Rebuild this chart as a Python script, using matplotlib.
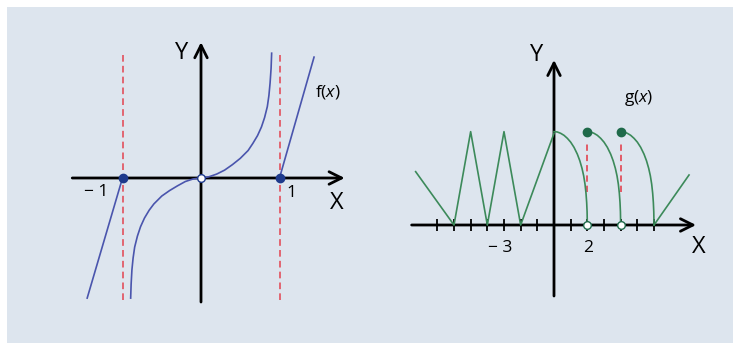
import numpy as np
import matplotlib.pyplot as plt
from matplotlib.patches import Rectangle

plt.rcParams['font.family'] = ['Open Sans', 'DejaVu Sans']
plt.rcParams['mathtext.fontset'] = 'custom'
plt.rcParams['mathtext.rm'] = 'Open Sans'
plt.rcParams['mathtext.it'] = 'Open Sans:italic'

# ---- left panel: f(x) ----
f_left_x = [-1.45, -1.0]
f_left_y = [-1.53, 0.0]
f_low_x = [-0.896, -0.89, -0.88, -0.865, -0.845, -0.81, -0.77, -0.72, -0.66,
           -0.6, -0.5, -0.4, -0.3, -0.2, -0.1, 0.0]
f_low_y = [-1.53, -1.35, -1.17, -1.02, -0.88, -0.74, -0.62, -0.51, -0.41,
           -0.33, -0.23, -0.16, -0.10, -0.045, -0.012, 0.0]
f_up_x = [0.0, 0.1, 0.2, 0.3, 0.4, 0.5, 0.6, 0.66, 0.72, 0.77, 0.81, 0.845,
          0.865, 0.88, 0.893, 0.90]
f_up_y = [0.0, 0.015, 0.05, 0.10, 0.17, 0.25, 0.35, 0.44, 0.54, 0.65, 0.77,
          0.91, 1.05, 1.21, 1.40, 1.59]
f_right_x = [1.0, 1.44]
f_right_y = [0.0, 1.54]
f_dots_x = [-1.0, 1.0]
f_open_x = [0.0]
f_asym_x = [-1.0, 1.0]

# ---- right panel: g(x) ----
g_zig_x = [-8.3, -6, -5, -4, -3, -2, 0]
g_zig_y = [3.2, 0, 5.6, 0, 5.6, 0, 5.5]
arc_dx = [0.0, 0.2, 0.4, 0.6, 0.8, 1.0, 1.2, 1.4, 1.55, 1.68, 1.78, 1.86,
          1.92, 1.96, 1.985, 2.0]
arc_y = [5.6, 5.58, 5.5, 5.38, 5.2, 4.97, 4.66, 4.25, 3.85, 3.4, 2.95, 2.45,
         1.9, 1.35, 0.8, 0.0]
arc_starts = [0, 2, 4]
g_tail_x = [6, 8.1]
g_tail_y = [0, 3.0]
g_dots_x = [2, 4]
g_top = 5.6
g_ticks = [-7, -6, -5, -4, -3, -2, -1, 1, 2, 3, 4, 5, 6]

blue = '#4a55ad'
navy = '#1e3a8c'
green = '#3c8a5a'
dgreen = '#1f6a4a'
red = '#e2505c'
bg = '#dde5ee'

fig = plt.figure(figsize=(7.35, 3.56), dpi=100)
fig.patch.set_facecolor('white')
fig.add_artist(Rectangle((7 / 735, 13 / 356), 726 / 735, 336 / 356,
                         transform=fig.transFigure, facecolor=bg,
                         edgecolor='none', zorder=0))

arrow = dict(arrowstyle='->,head_length=0.9,head_width=0.45', color='black',
             lw=2.0, shrinkA=0, shrinkB=0)

# left axes: origin at pixel (201, 178), 78.5 px per unit
u = 78.5
ax1 = fig.add_axes([0, 0, 367 / 735, 1])
ax1.set_xlim(-201 / u, 166 / u)
ax1.set_ylim((178 - 356) / u, 178 / u)
ax1.axis('off')
ax1.annotate('', xy=(1.83, 0), xytext=(-1.64, 0), arrowprops=arrow)
ax1.annotate('', xy=(0, 1.73), xytext=(0, -1.58), arrowprops=arrow)
for xa in f_asym_x:
    ax1.plot([xa, xa], [-1.55, 1.6], color=red, lw=1.2, dashes=(4, 2.5), zorder=2)
ax1.plot(f_left_x, f_left_y, color=blue, lw=1.2, zorder=3)
ax1.plot(f_low_x, f_low_y, color=blue, lw=1.2, zorder=3)
ax1.plot(f_up_x, f_up_y, color=blue, lw=1.2, zorder=3)
ax1.plot(f_right_x, f_right_y, color=blue, lw=1.2, zorder=3)
ax1.plot(f_dots_x, [0] * len(f_dots_x), 'o', color=navy, ms=6, zorder=5)
ax1.plot(f_open_x, [0], 'o', mfc='white', mec=navy, mew=1.0, ms=5.5, zorder=5)
ax1.text(-0.245, 1.59, 'Y', fontsize=17, ha='center', va='center')
ax1.text(1.73, -0.32, 'X', fontsize=17, ha='center', va='center')
ax1.text(-1.33, -0.18, '\u2212 1', fontsize=12.5, ha='center', va='center')
ax1.text(1.155, -0.19, '1', fontsize=12.5, ha='center', va='center')
ax1.text(1.62, 1.10, r'f($\mathit{x}$)', fontsize=12.5, ha='center', va='center')

# right axes: origin at pixel (554, 225), 16.67 px per unit
v = 16.67
ax2 = fig.add_axes([367 / 735, 0, 368 / 735, 1])
ax2.set_xlim((367 - 554) / v, (735 - 554) / v)
ax2.set_ylim((225 - 356) / v, 225 / v)
ax2.axis('off')
ax2.annotate('', xy=(8.52, 0), xytext=(-8.54, 0), arrowprops=arrow)
ax2.annotate('', xy=(0, 9.9), xytext=(0, -4.26), arrowprops=arrow)
ax2.plot(g_ticks, [0] * len(g_ticks), '|', color='black', ms=8, mew=1.3, zorder=2)
for xd in g_dots_x:
    ax2.plot([xd, xd], [2.0, 5.0], color=red, lw=1.3, dashes=(3.5, 2.2), zorder=2)
ax2.plot(g_zig_x, g_zig_y, color=green, lw=1.2, zorder=3)
for s in arc_starts:
    ax2.plot(np.array(arc_dx) + s, arc_y, color=green, lw=1.2, zorder=3)
ax2.plot(g_tail_x, g_tail_y, color=green, lw=1.2, zorder=3)
ax2.plot(g_dots_x, [g_top] * len(g_dots_x), 'o', color=dgreen, ms=6, zorder=5)
ax2.plot(g_dots_x, [0] * len(g_dots_x), 'o', mfc='white', mec=dgreen, mew=1.0,
         ms=5.5, zorder=5)
ax2.text(-1.04, 10.2, 'Y', fontsize=17, ha='center', va='center')
ax2.text(8.7, -1.3, 'X', fontsize=17, ha='center', va='center')
ax2.text(5.06, 7.6, r'g($\mathit{x}$)', fontsize=12.5, ha='center', va='center')
ax2.text(-3.24, -1.4, '\u2212 3', fontsize=12.5, ha='center', va='center')
ax2.text(2.06, -1.4, '2', fontsize=12.5, ha='center', va='center')

fig.savefig('out.png', dpi=100)
